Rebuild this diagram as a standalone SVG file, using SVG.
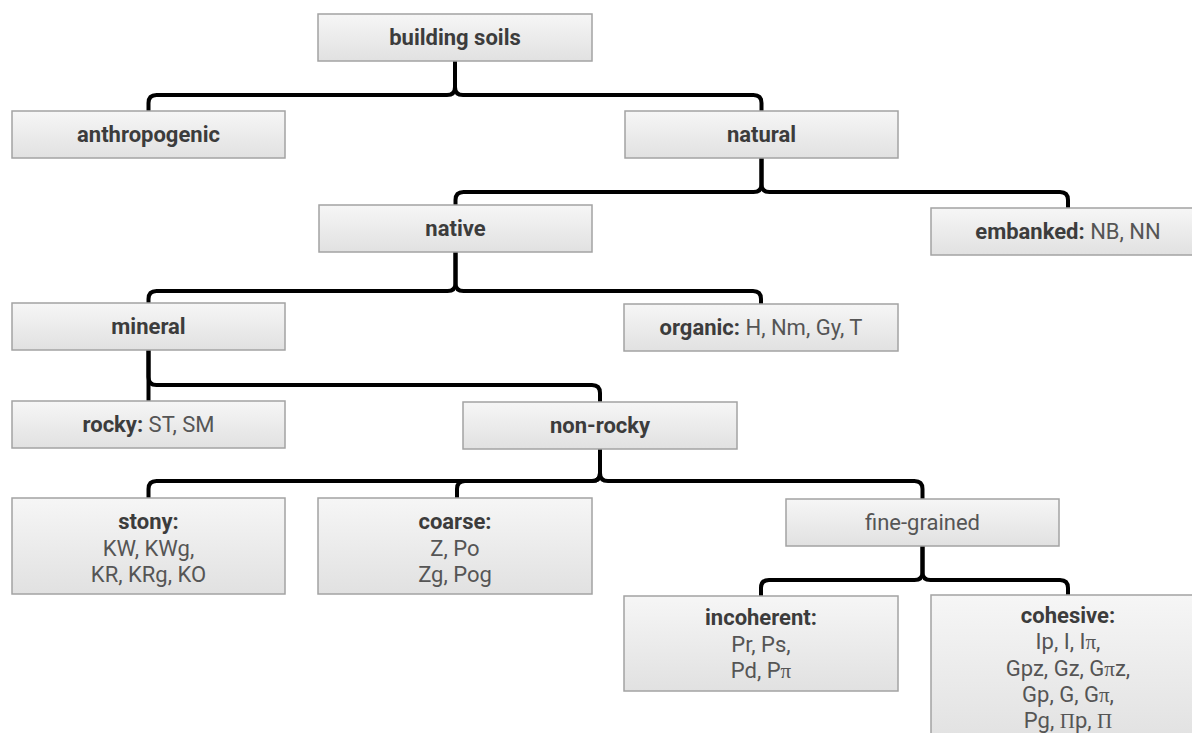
<svg xmlns="http://www.w3.org/2000/svg" width="1192" height="733" viewBox="0 0 1192 733">
<defs>
<linearGradient id="g" x1="0" y1="0" x2="0" y2="1">
<stop offset="0" stop-color="#f6f6f6"/>
<stop offset="1" stop-color="#e1e1e1"/>
</linearGradient>
</defs>
<style>
.box{fill:url(#g);stroke:#a3a3a3;stroke-width:1.5}
text{font-family:Roboto,"Liberation Sans",sans-serif;font-size:22px;text-anchor:middle;fill:#555}
.b{font-weight:bold;fill:#3c3c3c}
.s{font-family:"Liberation Serif",serif;font-size:21px}
.c path{fill:none;stroke:#000;stroke-width:4}
</style>
<rect width="1192" height="733" fill="#fff"/>
<g class="c" id="connectors">
<path d="M455 61V87Q455 95 447 95H156.5Q148.5 95 148.5 103V111"/>
<path d="M455 61V87Q455 95 463 95H753.5Q761.5 95 761.5 103V111"/>
<path d="M761.5 158V184Q761.5 192 753.5 192H463.5Q455.5 192 455.5 200V205"/>
<path d="M761.5 158V184Q761.5 192 769.5 192H1060Q1068 192 1068 200V208"/>
<path d="M455.5 252V283Q455.5 291 447.5 291H156.5Q148.5 291 148.5 299V303"/>
<path d="M455.5 252V283Q455.5 291 463.5 291H753Q761 291 761 299V304"/>
<path d="M148.5 350V401"/>
<path d="M148.5 350V377Q148.5 385 156.5 385H592Q600 385 600 393V402"/>
<path d="M600 449V473Q600 481 592 481H156.5Q148.5 481 148.5 489V498"/>
<path d="M600 449V473Q600 481 592 481H465Q457 481 457 489V498"/>
<path d="M600 449V473Q600 481 608 481H914.5Q922.5 481 922.5 489V499"/>
<path d="M922.5 546V572Q922.5 580 914.5 580H769Q761 580 761 588V596"/>
<path d="M922.5 546V572Q922.5 580 930.5 580H1060Q1068 580 1068 588V595"/>
</g>
<g id="building"><rect class="box" x="318" y="14" width="274" height="47"/><text x="455" y="45" class="b">building soils</text></g>
<g id="anthropogenic"><rect class="box" x="12" y="111" width="273" height="47"/><text x="148.5" y="142" class="b">anthropogenic</text></g>
<g id="natural"><rect class="box" x="625" y="111" width="273" height="47"/><text x="761.5" y="142" class="b">natural</text></g>
<g id="native"><rect class="box" x="319" y="205" width="273" height="47"/><text x="455.5" y="236" class="b">native</text></g>
<g id="embanked"><rect class="box" x="931" y="208" width="274" height="47"/><text x="1068" y="239"><tspan class="b">embanked:</tspan> NB, NN</text></g>
<g id="mineral"><rect class="box" x="12" y="303" width="273" height="47"/><text x="148.5" y="334" class="b">mineral</text></g>
<g id="organic"><rect class="box" x="624" y="304" width="274" height="47"/><text x="761" y="335"><tspan class="b">organic:</tspan> H, Nm, Gy, T</text></g>
<g id="rocky"><rect class="box" x="12" y="401" width="273" height="47"/><text x="148.5" y="432"><tspan class="b">rocky:</tspan> ST, SM</text></g>
<g id="nonrocky"><rect class="box" x="463" y="402" width="274" height="47"/><text x="600" y="433" class="b">non-rocky</text></g>
<g id="stony"><rect class="box" x="12" y="498" width="273" height="96"/>
<text x="148.5" y="529" class="b">stony:</text><text x="148.5" y="555.5">KW, KWg,</text><text x="148.5" y="582">KR, KRg, KO</text></g>
<g id="coarse"><rect class="box" x="318" y="498" width="274" height="96"/>
<text x="455" y="529" class="b">coarse:</text><text x="455" y="555.5">Z, Po</text><text x="455" y="582">Zg, Pog</text></g>
<g id="fine"><rect class="box" x="786" y="499" width="273" height="47"/><text x="922.5" y="530">fine-grained</text></g>
<g id="incoherent"><rect class="box" x="624" y="596" width="274" height="95"/>
<text x="761" y="625" class="b">incoherent:</text><text x="761" y="652">Pr, Ps,</text><text x="761" y="678">Pd, P<tspan class="s">π</tspan></text></g>
<g id="cohesive"><rect class="box" x="931" y="595" width="274" height="150"/>
<text x="1068" y="623" class="b">cohesive:</text>
<text x="1068" y="649">Ip, I, I<tspan class="s">π</tspan>,</text>
<text x="1068" y="676">Gpz, Gz, G<tspan class="s">π</tspan>z,</text>
<text x="1068" y="702">Gp, G, G<tspan class="s">π</tspan>,</text>
<text x="1068" y="728">Pg, <tspan class="s">Π</tspan>p, <tspan class="s">Π</tspan></text></g>
</svg>
